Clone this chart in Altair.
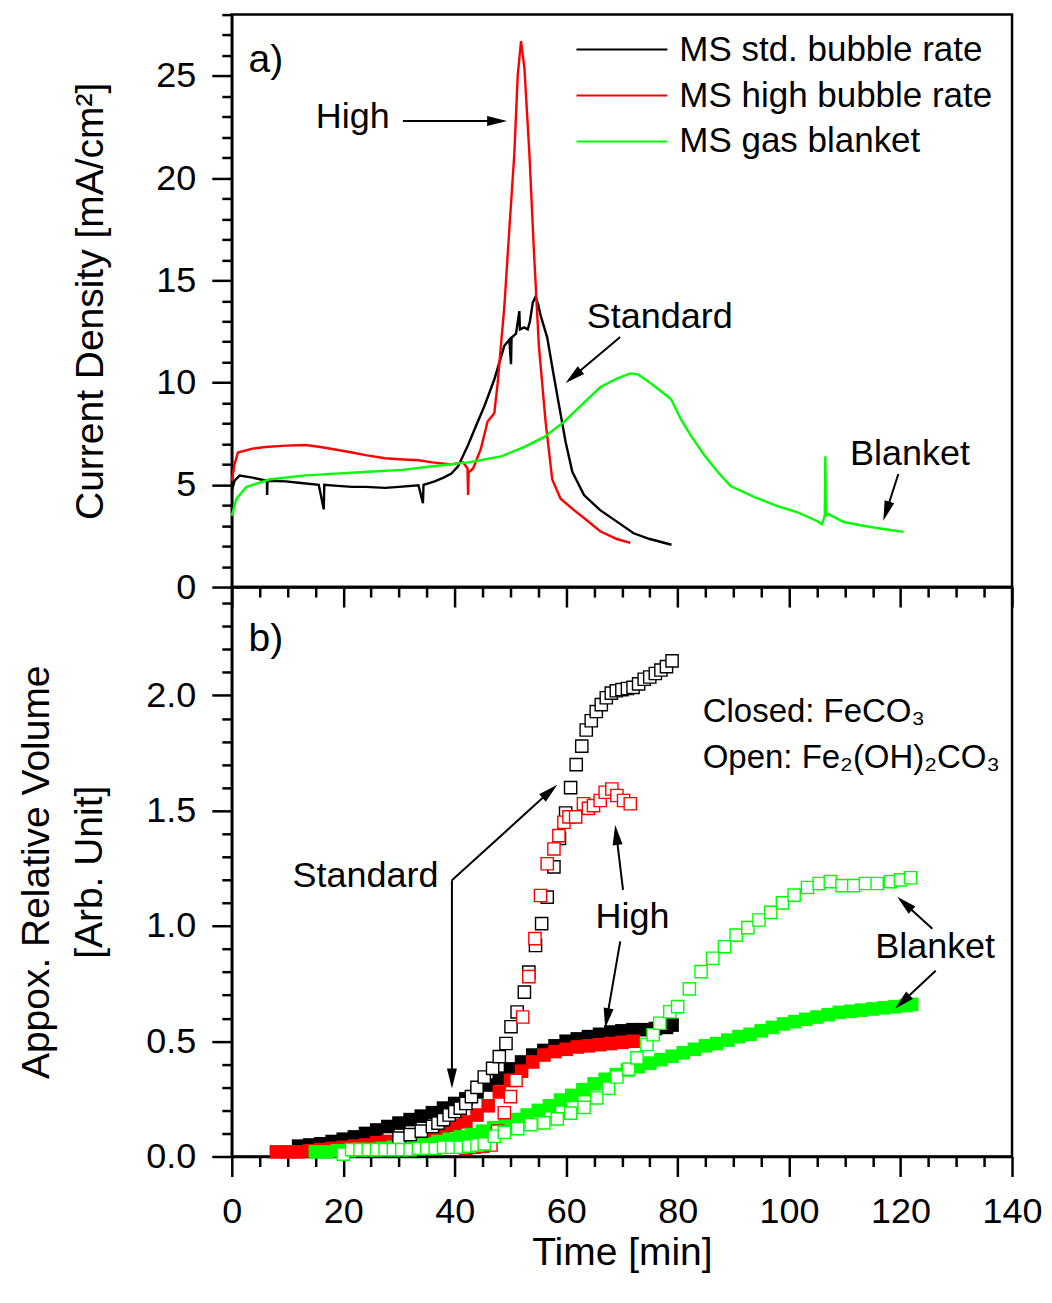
import math
import altair as alt
import pandas as pd

FONT = "Liberation Sans"
SERIES = ["MS std. bubble rate", "MS high bubble rate", "MS gas blanket"]
COLORS = ["#000000", "#ff0000", "#00ff00"]

# ---------------- panel a) current density ----------------
std_t = [0, 0.5, 1.4, 3.7, 6.3, 6.35, 6.4, 9.7, 12.0, 15.6, 16.5, 16.6, 19.0, 21.6, 24.0, 27.5, 30.0, 33.5, 34.3, 34.4,
         36.4, 38.0, 39.4, 40.6, 42.4, 44.0, 45.3, 47.1, 48.9, 49.8, 50.1, 50.2, 51.0, 51.6, 51.7, 52.5, 53.1, 53.5, 54.0, 54.5,
         55.0, 55.4, 56.6, 57.8, 59.0, 59.9, 61.1, 63.2, 66.1, 69.1, 72.1, 75.0, 78.9]
std_v = [4.7, 5.2, 5.45, 5.35, 5.2, 4.5, 5.2, 5.17, 5.1, 5.0, 3.8, 5.0, 4.95, 4.9, 4.9, 4.85, 4.9, 4.98, 4.1, 5.0,
         5.17, 5.35, 5.55, 5.9, 6.95, 8.0, 8.83, 10.15, 11.8, 12.1, 10.9, 12.2, 12.4, 13.5, 12.6, 12.7, 12.6, 13.0, 13.9, 14.2,
         13.8, 13.3, 12.2, 10.3, 8.46, 7.1, 5.64, 4.5, 3.76, 3.2, 2.63, 2.35, 2.07]

high_t = [0, 0.5, 1.1, 3.7, 6.0, 9.7, 13.2, 15.6, 18.0, 21.6, 24.0, 27.5, 30.0, 33.5, 36.0, 39.4, 41.5, 42.3, 42.4, 42.5,
          43.3, 44.7, 45.9, 47.1, 47.7, 48.9, 49.8, 50.7, 51.3, 51.9, 52.5, 53.4, 54.2, 55.1, 56.3, 57.5, 59.0, 61.4, 63.2, 66.1,
          69.1, 71.5]
high_v = [5.2, 6.0, 6.58, 6.77, 6.85, 6.92, 6.95, 6.86, 6.75, 6.58, 6.45, 6.3, 6.25, 6.2, 6.1, 6.0, 6.1, 5.8, 4.5, 5.6,
          5.8, 6.77, 8.1, 8.5, 9.96, 13.7, 17.5, 21.2, 25.0, 26.7, 25.4, 21.2, 16.5, 11.8, 8.1, 5.26, 4.32, 3.76, 3.38, 2.73,
          2.35, 2.16]

gas_t = [0, 0.8, 2.6, 6.7, 12.7, 18.6, 24.5, 30.5, 36.4, 42.4, 48.3, 52.5, 56.0, 59.6, 63.2, 66.1, 69.1, 71.5, 72.9, 75.0,
         76.5, 78.8, 80.6, 82.4, 84.9, 87.2, 89.5, 93.8, 97.9, 101.4, 105.0, 105.9, 106.4, 106.5, 106.6, 107.1, 109.8, 113.3,
         116.9, 120.5]
gas_v = [3.48, 4.3, 4.89, 5.26, 5.45, 5.55, 5.64, 5.73, 5.92, 6.1, 6.39, 6.86, 7.33, 8.08, 9.02, 9.77, 10.2, 10.45, 10.4, 10.0,
         9.69, 9.2, 8.2, 7.39, 6.41, 5.63, 4.94, 4.4, 3.96, 3.67, 3.23, 3.08, 3.5, 6.4, 3.5, 3.57, 3.18, 3.0,
         2.84, 2.7]

# ---------------- panel b) relative volume ----------------
closed_std_t = [12, 14, 16, 18, 20, 22, 24, 26, 28, 30, 32, 34, 36, 38, 40, 42, 44, 46, 48, 50,
                52, 54, 56, 58, 60, 62, 64, 66, 68, 70, 72, 74, 76, 78, 79]
closed_std_v = [0.045, 0.05, 0.055, 0.065, 0.075, 0.085, 0.10, 0.115, 0.13, 0.145, 0.16, 0.175, 0.19, 0.21, 0.23, 0.25,
                0.28, 0.31, 0.34, 0.38, 0.41, 0.44, 0.46, 0.48, 0.50, 0.51, 0.52, 0.53, 0.54, 0.545, 0.55, 0.55, 0.555,
                0.56, 0.57]

closed_high_t = [8, 10, 12, 14, 16, 18, 20, 22, 24, 26, 28, 30, 32, 34, 36, 38, 40, 42, 44, 46,
                 48, 50, 52, 54, 56, 58, 60, 62, 64, 66, 68, 70, 72]
closed_high_v = [0.02, 0.02, 0.02, 0.025, 0.03, 0.035, 0.04, 0.045, 0.05, 0.06, 0.065, 0.075, 0.085, 0.095, 0.105,
                 0.12, 0.135, 0.15, 0.18, 0.22, 0.28, 0.33, 0.37, 0.41, 0.44, 0.455, 0.465, 0.475, 0.48, 0.485,
                 0.49, 0.495, 0.50]

closed_gas_t = [15, 17, 19, 21, 23, 25, 27, 29, 31, 33, 35, 37, 39, 41, 43, 45, 47, 49, 51, 53,
                55, 57, 59, 61, 63, 65, 67, 69, 71, 73, 75, 77, 79, 81, 83, 85, 87, 89, 91, 93,
                95, 97, 99, 101, 103, 105, 107, 109, 111, 113, 115, 117, 119, 121, 122]
closed_gas_v = [0.02, 0.02, 0.025, 0.025, 0.03, 0.03, 0.035, 0.04, 0.045, 0.05, 0.055, 0.065, 0.075, 0.085, 0.095,
                0.11, 0.125, 0.14, 0.16, 0.18, 0.2, 0.22, 0.245, 0.265, 0.29, 0.315, 0.335, 0.355, 0.375, 0.39,
                0.405, 0.42, 0.435, 0.45, 0.465, 0.48, 0.49, 0.505, 0.52, 0.53, 0.545, 0.56, 0.575, 0.585, 0.595,
                0.605, 0.615, 0.625, 0.63, 0.635, 0.64, 0.645, 0.65, 0.655, 0.66]

open_std_t = [30, 32, 34, 36, 37, 38, 39, 40, 41, 42, 43, 44, 45.3, 46.8, 48.0, 49.2, 50.1, 51.2, 52.5, 53.3,
              54.5, 55.6, 56.6, 57.8, 58.8, 59.9, 60.8, 61.8, 62.8, 63.6, 64.5, 65.4, 66.3, 67.2, 68.1, 69.0, 70.0,
              71.0, 72.0, 73.0, 74.0, 75.0, 76.0, 77.0, 78.0, 79.0]
open_std_v = [0.08, 0.095, 0.11, 0.13, 0.145, 0.16, 0.18, 0.195, 0.21, 0.23, 0.26, 0.30, 0.345, 0.382, 0.433, 0.49,
              0.563, 0.627, 0.713, 0.80, 0.915, 1.01, 1.125, 1.256, 1.38, 1.49, 1.60, 1.70, 1.78, 1.85, 1.89, 1.93,
              1.96, 1.99, 2.01, 2.02, 2.025, 2.03, 2.035, 2.05, 2.07, 2.08, 2.095, 2.11, 2.125, 2.15]

open_high_t = [42, 43.5, 45, 46.5, 47.7, 48.9, 50.0, 51.0, 52.2, 53.3, 54.4, 55.4, 56.6, 57.8, 58.7, 59.6, 60.5,
               61.7, 63.1, 64.0, 64.9, 66.1, 67.0, 68.2, 69.1, 70.3, 71.5]
open_high_v = [0.035, 0.04, 0.045, 0.05, 0.11, 0.19, 0.26, 0.33, 0.605, 0.78, 0.945, 1.132, 1.27, 1.334, 1.392,
               1.45, 1.473, 1.473, 1.53, 1.51, 1.522, 1.544, 1.58, 1.594, 1.566, 1.544, 1.53]

open_gas_t = [20, 21.5, 23, 24.5, 26, 27.5, 29, 30.5, 32, 33.5, 35, 36.5, 38, 39.5, 41, 42.5, 44, 45.3, 47.1, 48.9,
              51.3, 53.7, 56.0, 58.4, 60.8, 63.2, 65.5, 67.6, 69.1, 71.2, 72.7, 74.5, 75.6, 76.8, 78.6, 80.0, 82.1,
              84.2, 86.3, 88.4, 90.5, 92.6, 94.6, 96.7, 98.8, 100.9, 103.3, 105.4, 107.4, 109.5, 111.6, 113.7,
              115.8, 118.2, 120.0, 121.8]
open_gas_v = [0.01, 0.03, 0.03, 0.03, 0.03, 0.03, 0.03, 0.03, 0.03, 0.035, 0.035, 0.035, 0.04, 0.04, 0.04, 0.045,
              0.05, 0.055, 0.088, 0.105, 0.121, 0.138, 0.146, 0.163, 0.188, 0.213, 0.254, 0.296, 0.345, 0.379,
              0.428, 0.486, 0.528, 0.578, 0.628, 0.65, 0.727, 0.802, 0.86, 0.91, 0.96, 0.993, 1.026, 1.059, 1.10,
              1.134, 1.167, 1.184, 1.192, 1.175, 1.175, 1.184, 1.184, 1.192, 1.20, 1.209]

# ---------------- annotations ----------------
top_text_label = ["a)", "High", "Standard", "Blanket"]
top_text_t = [6.1, 21.7, 76.8, 121.7]
top_text_v = [25.8, 22.97, 13.2, 6.5]
top_text_size = [39, 36, 36, 36]
top_arrows = [(30.7, 22.8, 49.4, 22.8), (69.7, 12.23, 59.9, 9.98), (119.6, 5.53, 116.9, 3.24)]

bot_text_label = ["b)", "Standard", "High", "Blanket"]
bot_text_t = [6.1, 24.0, 71.9, 126.2]
bot_text_v = [2.245, 1.2175, 1.04, 0.91]
bot_text_size = [39, 36, 36, 36]
formula_label = ["Closed: FeCO\u2083", "Open: Fe\u2082(OH)\u2082CO\u2083"]
formula_t = [84.5, 84.5]
formula_v = [1.885, 1.686]
bot_arrows = [(39.5, 1.198, 58.4, 1.613), (39.5, 1.198, 39.5, 0.295), (70.2, 1.157, 68.8, 1.438),
              (69.7, 0.933, 67.0, 0.557), (125.7, 0.988, 119.4, 1.127), (126.3, 0.806, 119.0, 0.641)]

# ---------------- geometry / styles ----------------
W, H_TOP, H_BOT = 781, 573, 570
X_MAX, YA_MAX, YB_MAX = 140, 28, 2.47
KX = W / X_MAX
KYA = H_TOP / YA_MAX
KYB = H_BOT / YB_MAX
HEAD = 20
ARROW_SHAPE = "M0,-1L0.5,1L-0.5,1Z"


def arrows_df(arrs, ky):
    rules, heads = [], []
    for t0, v0, t1, v1 in arrs:
        dx = (t1 - t0) * KX
        dy = -(v1 - v0) * ky
        n = math.hypot(dx, dy)
        ux, uy = dx / n, dy / n
        ang = math.degrees(math.atan2(ux, -uy)) % 360
        ct = t1 - ux * HEAD / 2 / KX
        cv = v1 + uy * HEAD / 2 / ky
        rules.append({"t": t0, "v": v0, "t2": ct, "v2": cv})
        heads.append({"t": ct, "v": cv, "angle": ang})
    return pd.DataFrame(rules), pd.DataFrame(heads)


rows = []
for name, ts, vs in zip(SERIES, [std_t, high_t, gas_t], [std_v, high_v, gas_v]):
    for t, v in zip(ts, vs):
        rows.append({"t": t, "v": v, "series": name})
lines_df = pd.DataFrame(rows)

closed_rows, open_rows = [], []
for c, ts, vs in zip(COLORS, [closed_std_t, closed_high_t, closed_gas_t], [closed_std_v, closed_high_v, closed_gas_v]):
    for t, v in zip(ts, vs):
        closed_rows.append({"t": t, "v": v, "c": c})
for c, ts, vs in zip(COLORS, [open_std_t, open_high_t, open_gas_t], [open_std_v, open_high_v, open_gas_v]):
    for t, v in zip(ts, vs):
        open_rows.append({"t": t, "v": v, "c": c})
closed_df = pd.DataFrame(closed_rows)
open_df = pd.DataFrame(open_rows)

top_text_df = pd.DataFrame({"t": top_text_t, "v": top_text_v, "label": top_text_label, "fs": top_text_size})
bot_text_df = pd.DataFrame({"t": bot_text_t, "v": bot_text_v, "label": bot_text_label, "fs": bot_text_size})
formula_df = pd.DataFrame({"t": formula_t, "v": formula_v, "label": formula_label})
top_rules, top_heads = arrows_df(top_arrows, KYA)
bot_rules, bot_heads = arrows_df(bot_arrows, KYB)

x_vals = list(range(0, X_MAX + 1, 5))
major_x = "datum.value % 20 === 0"
x_tick = {"condition": {"test": major_x, "value": 20}, "value": 10}
x_scale = alt.Scale(domain=[0, X_MAX], nice=False, zero=False)

x_top = alt.X("t:Q", scale=x_scale,
              axis=alt.Axis(values=x_vals, labels=False, title=None, tickSize=x_tick, tickWidth=2.5,
                            domainWidth=2.5))
x_bot = alt.X("t:Q", scale=x_scale,
              axis=alt.Axis(values=x_vals, labelExpr=major_x + " ? datum.label : ''",
                            labelFontSize={"condition": {"test": major_x, "value": 36}, "value": 0},
                            labelPadding=18, labelFlush=False, labelOverlap=False,
                            title="Time [min]", titleFontSize=39, titlePadding=4,
                            tickSize=x_tick, tickWidth=2.5, domainWidth=2.5))

ya_vals = list(range(0, YA_MAX + 1))
major_a = "datum.value % 5 === 0"
y_top = alt.Y("v:Q", scale=alt.Scale(domain=[0, YA_MAX], nice=False),
              axis=alt.Axis(values=ya_vals, labelExpr=major_a + " ? datum.label : ''",
                            labelFontSize={"condition": {"test": major_a, "value": 36}, "value": 0},
                            labelPadding=16, labelOverlap=False,
                            tickSize={"condition": {"test": major_a, "value": 20}, "value": 10},
                            tickWidth=2.5, domainWidth=2.5,
                            title="Current Density [mA/cm\u00b2]", titleFontSize=39, titlePadding=45))

yb_vals = [round(i * 0.1, 1) for i in range(25)]
major_b = "abs(datum.value * 2 - round(datum.value * 2)) < 0.001"
y_bot = alt.Y("v:Q", scale=alt.Scale(domain=[0, YB_MAX], nice=False),
              axis=alt.Axis(values=yb_vals, format=".1f",
                            labelExpr=major_b + " ? datum.label : ''",
                            labelFontSize={"condition": {"test": major_b, "value": 36}, "value": 0},
                            labelPadding=16, labelOverlap=False,
                            tickSize={"condition": {"test": major_b, "value": 20}, "value": 10},
                            tickWidth=2.5, domainWidth=2.5,
                            title=["Appox. Relative Volume", "[Arb. Unit]"], titleFontSize=39,
                            titleLineHeight=53, titlePadding=36))

# ---------------- top panel ----------------
lines = alt.Chart(lines_df).mark_line(strokeWidth=2.4).encode(
    x=x_top, y=y_top,
    color=alt.Color("series:N", scale=alt.Scale(domain=SERIES, range=COLORS),
                    legend=alt.Legend(orient="none", legendX=344, legendY=18, title=None,
                                      symbolType="stroke", symbolSize=8281, symbolStrokeWidth=2,
                                      labelFontSize=35, labelFont=FONT, labelColor="black", labelLimit=0,
                                      clipHeight=34, rowPadding=11, labelOffset=11, padding=0)),
    detail="series:N",
)
top_text = alt.Chart(top_text_df).mark_text(font=FONT, color="black", baseline="middle", align="center").encode(
    x=x_top, y=y_top, text="label:N", size=alt.Size("fs:Q", scale=None))
top_rule = alt.Chart(top_rules).mark_rule(color="black", strokeWidth=2).encode(
    x=x_top, y=y_top, x2="t2:Q", y2="v2:Q")
top_head = alt.Chart(top_heads).mark_point(shape=ARROW_SHAPE, filled=True, color="black", size=HEAD * HEAD,
                                           opacity=1, strokeWidth=0).encode(
    x=x_top, y=y_top, angle=alt.Angle("angle:Q", scale=None))

top = alt.layer(lines, top_rule, top_head, top_text).properties(width=W, height=H_TOP)

# ---------------- bottom panel ----------------
closed = alt.Chart(closed_df).mark_square(size=185, opacity=1).encode(
    x=x_bot, y=y_bot, color=alt.Color("c:N", scale=None))
opened = alt.Chart(open_df).mark_point(shape="square", size=150, filled=True, fill="white", fillOpacity=1,
                                       strokeWidth=1.4, opacity=1).encode(
    x=x_bot, y=y_bot, stroke=alt.Stroke("c:N", scale=None))
bot_text = alt.Chart(bot_text_df).mark_text(font=FONT, color="black", baseline="middle", align="center").encode(
    x=x_bot, y=y_bot, text="label:N", size=alt.Size("fs:Q", scale=None))
formula = alt.Chart(formula_df).mark_text(font=FONT, color="black", baseline="alphabetic", align="left",
                                          fontSize=33).encode(x=x_bot, y=y_bot, text="label:N")
bot_rule = alt.Chart(bot_rules).mark_rule(color="black", strokeWidth=2).encode(
    x=x_bot, y=y_bot, x2="t2:Q", y2="v2:Q")
bot_head = alt.Chart(bot_heads).mark_point(shape=ARROW_SHAPE, filled=True, color="black", size=HEAD * HEAD,
                                           opacity=1, strokeWidth=0).encode(
    x=x_bot, y=y_bot, angle=alt.Angle("angle:Q", scale=None))

bottom = alt.layer(closed, opened, bot_rule, bot_head, bot_text, formula).properties(width=W, height=H_BOT)

chart = alt.VConcatChart(vconcat=[top, bottom], spacing=0, bounds="flush").properties(
    padding={"left": 8, "top": 3, "right": 0, "bottom": 1}
).configure_view(
    stroke="black", strokeWidth=2.5
).configure_axis(
    labelFont=FONT, titleFont=FONT, labelColor="black", titleColor="black", titleFontWeight="normal",
    domainColor="black", tickColor="black", grid=False
).configure_legend(
    labelFont=FONT
)

chart.save("out.html", embed_options={"renderer": "svg", "actions": False})
